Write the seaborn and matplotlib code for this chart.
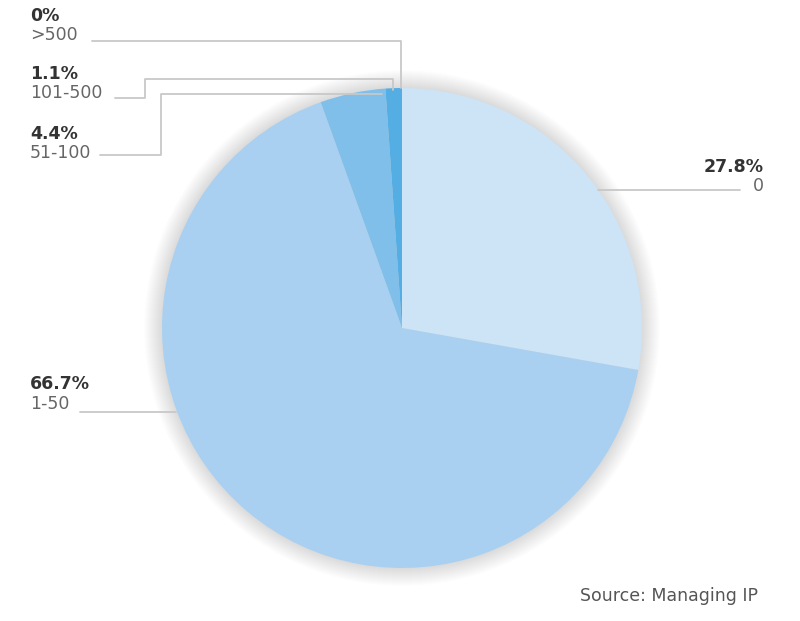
import numpy as np
import matplotlib
matplotlib.use("Agg")
import matplotlib.pyplot as plt
import seaborn as sns
from matplotlib.patches import Circle

categories = ["0", "1-50", "51-100", "101-500", ">500"]
shares = [27.8, 66.7, 4.4, 1.1, 0.0]
pct_labels = ["27.8%", "66.7%", "4.4%", "1.1%", "0%"]
cat_labels = ["0", "1-50", "51-100", "101-500", ">500"]
colors = ["#cde3f6", "#a9d0f0", "#80bfea", "#55aee3", "#3c9fdc"]

sns.set_style("white")
plt.rcParams["font.family"] = ["DejaVu Sans"]

W, H = 800, 621
fig = plt.figure(figsize=(8, 6.21), dpi=100)
ax = fig.add_axes([0, 0, 1, 1])

def py(y):
    # pixel row -> data y
    return H - y

cx, cy, r = 402, py(328), 240

# soft shadow behind the pie
for k in range(18):
    ax.add_patch(Circle((cx, cy), r + 18 - k, color="#000000",
                        alpha=0.009, lw=0, zorder=0))

ax.pie(shares, colors=colors, startangle=90, counterclock=False,
       center=(cx, cy), radius=r, wedgeprops=dict(linewidth=0),
       frame=True)
ax.set_xlim(0, W)
ax.set_ylim(0, H)
ax.set_aspect("equal")
ax.axis("off")

lc = "#c8c8c8"
lw = 1.3

# >500
ax.plot([92, 401, 401], [py(41), py(41), py(88)], color=lc, lw=lw, zorder=3)
# 101-500
ax.plot([115, 145, 145, 393, 393], [py(98), py(98), py(79), py(79), py(90)],
        color=lc, lw=lw, zorder=3)
# 51-100
ax.plot([100, 161, 161, 382], [py(155), py(155), py(94), py(94)],
        color=lc, lw=lw, zorder=1)
# 0
ax.plot([598, 740], [py(190), py(190)], color=lc, lw=lw, zorder=3)
# 1-50
ax.plot([80, 176], [py(412), py(412)], color=lc, lw=lw, zorder=3)

dark = "#333333"
grey = "#666666"
fs = 12.5

def label(x, y_pct, y_cat, i, ha="left"):
    ax.text(x, py(y_pct), pct_labels[i], ha=ha, va="center", fontsize=fs,
            fontweight="bold", color=dark)
    ax.text(x, py(y_cat), cat_labels[i], ha=ha, va="center", fontsize=fs,
            color=grey)

label(30, 16, 35, 4)
label(30, 74, 93, 3)
label(30, 134, 153, 2)
label(30, 384, 404, 1)
label(764, 167, 186, 0, ha="right")

ax.text(580, py(596), "Source: Managing IP", ha="left", va="center",
        fontsize=12.5, color="#555555")

fig.savefig("out.png", dpi=100)
